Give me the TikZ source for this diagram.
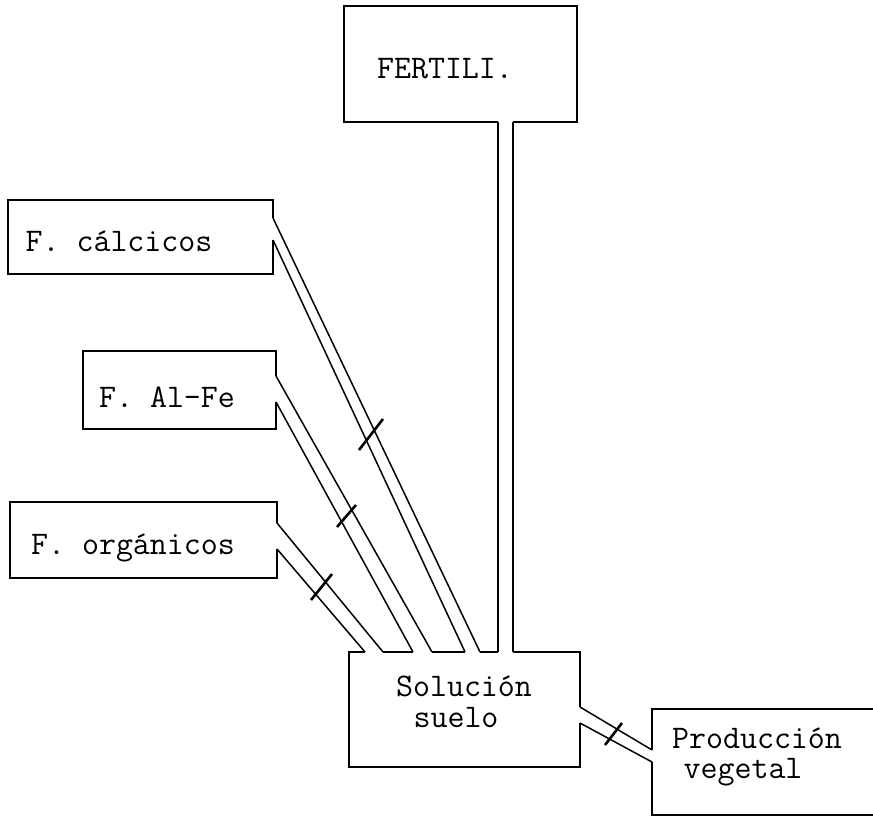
\documentclass[tikz,border=0pt]{standalone}
\usepackage{fontspec}
\begin{document}
\begin{tikzpicture}[x=1pt,y=-1pt,
  outline/.style={line width=1.5pt, line join=miter},
  conn/.style={line width=1.5pt},
  tick/.style={line width=2.6pt},
  lbl/.style={inner sep=0pt, anchor=base, font=\ttfamily\fontsize{33}{36}\selectfont}]
\useasboundingbox (0,0) rectangle (873,816);
% ---- labels
\node[lbl] (tfert) at (445,78) {FERTILI.};
\node[lbl] (tcalc) at (119,251) {F. cálcicos};
\node[lbl] (talfe) at (167,407) {F. Al-Fe};
\node[lbl] (torg) at (133,554) {F. orgánicos};
\node[lbl] (tsol1) at (464,696) {Solución};
\node[lbl] (tsol2) at (456,727) {suelo};
\node[lbl] (tprod1) at (757,748) {Producción};
\node[lbl] (tprod2) at (743,778) {vegetal};
% ---- connector end points
\coordinate (f1) at (498,122); \coordinate (f2) at (513,122);
\coordinate (s7) at (498,652); \coordinate (s8) at (513,652);
\coordinate (c1) at (273,218); \coordinate (c2) at (273,240);
\coordinate (s6) at (480,652); \coordinate (s5) at (465,652);
\coordinate (a1) at (276,376); \coordinate (a2) at (276,402);
\coordinate (s4) at (432,652); \coordinate (s3) at (413,652);
\coordinate (o1) at (277,523); \coordinate (o2) at (277,549);
\coordinate (s2) at (383,652); \coordinate (s1) at (365,652);
\coordinate (r1) at (580,707); \coordinate (r2) at (580,723);
\coordinate (p1) at (652,750); \coordinate (p2) at (652,762);
% ---- boxes (with openings)
\draw[outline] (f1) -- (344,122) -- (344,6) -- (577,6) -- (577,122) -- (f2);
\draw[outline] (c1) -- (273,200) -- (8,200) -- (8,274) -- (273,274) -- (c2);
\draw[outline] (a1) -- (276,351) -- (83,351) -- (83,429) -- (276,429) -- (a2);
\draw[outline] (o1) -- (277,502) -- (10,502) -- (10,578) -- (277,578) -- (o2);
\draw[outline] (s1) -- (349,652) -- (349,767) -- (580,767) -- (r2);
\draw[outline] (r1) -- (580,652) -- (s8);
\draw[outline] (s2) -- (s3);
\draw[outline] (s4) -- (s5);
\draw[outline] (s6) -- (s7);
\draw[outline] (p1) -- (652,709) -- (873,709);
\draw[outline] (p2) -- (652,815) -- (873,815);
% ---- connectors
\draw[conn] (f1) -- (s7);
\draw[conn] (f2) -- (s8);
\draw[conn] (c1) -- (s6);
\draw[conn] (c2) -- (s5);
\draw[conn] (a1) -- (s4);
\draw[conn] (a2) -- (s3);
\draw[conn] (o1) -- (s2);
\draw[conn] (o2) -- (s1);
\draw[conn] (r1) -- (p1);
\draw[conn] (r2) -- (p2);
% ---- cross ticks
\draw[tick] (359,450) -- (383,419);
\draw[tick] (337,527) -- (356,505);
\draw[tick] (311,600) -- (332,574);
\draw[tick] (605,745) -- (622,723);
\end{tikzpicture}
\end{document}
